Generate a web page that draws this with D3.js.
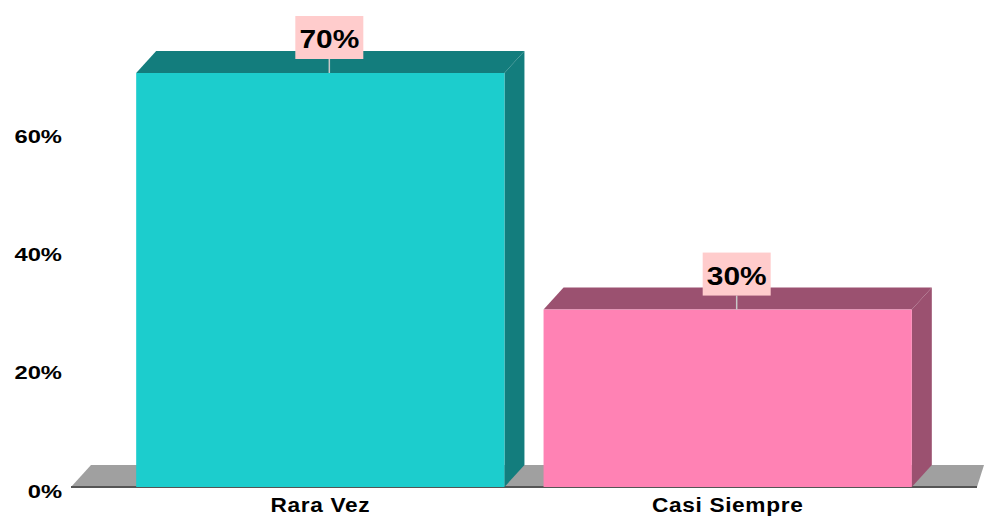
<!DOCTYPE html>
<html><head><meta charset="utf-8">
<script src="https://cdn.jsdelivr.net/npm/d3@7"></script>
<style>body{margin:0;background:#fff}svg{display:block}text{font-family:"Liberation Sans",Arial,sans-serif;font-weight:bold}</style>
</head><body>
<svg id="c" width="984" height="517"></svg>
<script>
const categories = ["Rara Vez", "Casi Siempre"];
const values = [70, 30];
const labels = ["70%", "30%"];
const tickValues = [0, 20, 40, 60];
const frontColors = ["#1ccdcd", "#ff82b4"];
const sideColors = ["#137d7d", "#9b5170"];

const svg = d3.select("#c");
const dx = 20, dy = -22;
const x = d3.scaleBand().domain(categories).range([71, 977]).paddingInner(0.096).paddingOuter(0.16);
const y = d3.scaleLinear().domain([0, 70]).range([487, 73]);

// floor
const y0 = y(0);
svg.append("path")
  .attr("d", `M71,${y0} L${71+dx},${y0+dy} L${984},${y0+dy} L977,${y0} Z`)
  .attr("fill", "#a0a0a0");
svg.append("line").attr("x1", 71).attr("x2", 977).attr("y1", y0).attr("y2", y0)
  .attr("stroke", "#555").attr("stroke-width", 2);

// y axis labels
const yAxis = d3.axisLeft(y).tickValues(tickValues).tickFormat(d => d + "%").tickSize(0).tickPadding(0);
const ga = svg.append("g").attr("transform", "translate(62,0)").call(yAxis);
ga.select(".domain").remove();
ga.attr("font-family", null).attr("font-size", null);
ga.selectAll(".tick text")
  .attr("x", null).attr("dy", null)
  .attr("text-anchor", "end")
  .attr("font-size", 19).attr("fill", "#000")
  .attr("transform", "translate(0,10) scale(1.25,1)");

// bars
categories.forEach((c, i) => {
  const x0 = x(c), bw = x.bandwidth(), yt = y(values[i]), yb = y(0);
  const g = svg.append("g");
  g.append("path").attr("d", `M${x0+bw},${yb} L${x0+bw+dx},${yb+dy} L${x0+bw+dx},${yt+dy} L${x0+bw},${yt} Z`)
    .attr("fill", sideColors[i]);
  g.append("path").attr("d", `M${x0},${yt} L${x0+dx},${yt+dy} L${x0+bw+dx},${yt+dy} L${x0+bw},${yt} Z`)
    .attr("fill", sideColors[i]);
  g.append("rect").attr("x", x0).attr("y", yt).attr("width", bw).attr("height", yb - yt)
    .attr("fill", frontColors[i]);
  const cx = x0 + (bw + dx) / 2 - 1;
  const bh = 43, bwid = 68;
  const by = yt - 14 - bh;
  g.append("line").attr("x1", cx).attr("x2", cx).attr("y1", by + bh).attr("y2", yt)
    .attr("stroke", "#c8c8c8").attr("stroke-width", 1.5);
  g.append("rect").attr("x", cx - bwid/2).attr("y", by).attr("width", bwid).attr("height", bh)
    .attr("fill", "#ffcccc");
  g.append("text").attr("text-anchor", "middle")
    .attr("transform", `translate(${cx},${by + bh/2 + 10.5}) scale(1.15,1)`)
    .attr("font-size", 26).attr("fill", "#000").text(labels[i]);
  svg.append("text").attr("text-anchor", "middle")
    .attr("transform", `translate(${x0 + bw/2},512) scale(1.08,1)`)
    .attr("font-size", 21).attr("letter-spacing", 0.6).attr("fill", "#000").text(c);
});
</script>
</body></html>
